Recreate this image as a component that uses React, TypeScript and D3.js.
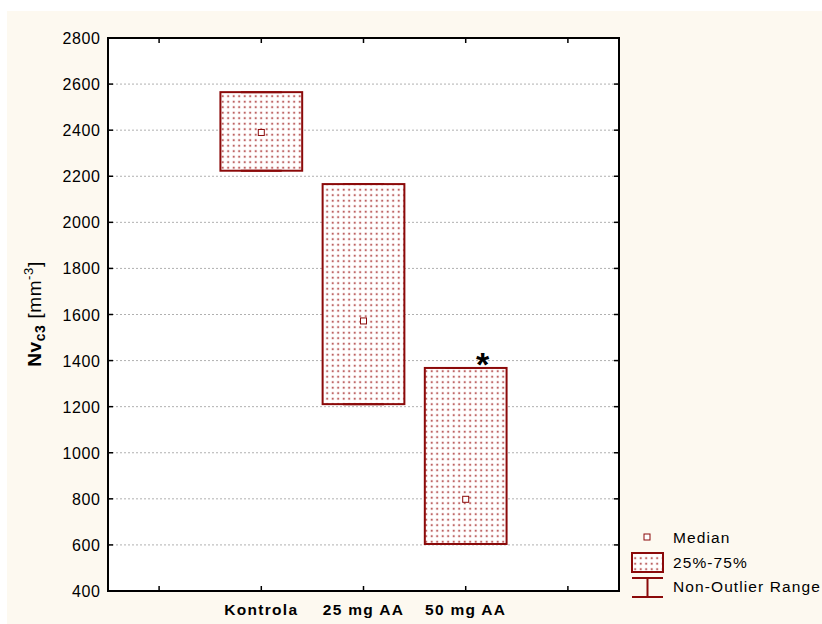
import React from "react";
import * as d3 from "d3";

// Box plot data: Nv c3 per group
const categories = ["Kontrola", "25 mg AA", "50 mg AA"];
const q1Values = [2224, 1211, 604];
const q3Values = [2565, 2166, 1368];
const medianValues = [2390, 1572, 798];
const rangeMin = [2224, 1211, 604];
const rangeMax = [2565, 2166, 1368];
const significant = [false, false, true];
const yTickValues = [400, 600, 800, 1000, 1200, 1400, 1600, 1800, 2000, 2200, 2400, 2600, 2800];
const legendLabels = ["Median", "25%-75%", "Non-Outlier Range"];

const W = 822;
const H = 624;
const plot = { left: 108, right: 619, top: 38, bottom: 591 };
const RED = "#8B0A0A";
const FONT = "Liberation Sans, Arial, sans-serif";

export default function App() {
  const slots = ["__start", ...categories, "__end"];
  const x = d3.scalePoint<string>().domain(slots).range([plot.left, plot.right]).padding(0.5);
  const y = d3.scaleLinear().domain([400, 2800]).range([plot.bottom, plot.top]);
  const step = x.step();
  const boxW = step * 0.8;

  return (
    <svg
      width={W}
      height={H}
      style={{ position: "fixed", left: 0, top: 0, display: "block" }}
      fontFamily={FONT}
    >
      <defs>
        <pattern id="dots" width={5.5} height={5.5} patternUnits="userSpaceOnUse">
          <rect width={5.5} height={5.5} fill="#ffffff" />
          <rect x={1.6} y={1.6} width={2.2} height={2.2} fill="#e6b0b0" />
          <rect x={2.1} y={2.1} width={1.2} height={1.2} fill="#8B0A0A" />
        </pattern>
      </defs>
      <rect width={W} height={H} fill="#ffffff" />
      <rect x={7} y={11} width={W - 7} height={H - 11} fill="#FDF9F0" />
      <rect
        x={plot.left}
        y={plot.top}
        width={plot.right - plot.left}
        height={plot.bottom - plot.top}
        fill="#ffffff"
      />

      {/* horizontal grid */}
      {yTickValues
        .filter((v) => v !== 400 && v !== 2800)
        .map((v) => (
          <line
            key={"g" + v}
            x1={plot.left}
            x2={plot.right}
            y1={y(v)}
            y2={y(v)}
            stroke="#b0b0b0"
            strokeWidth={1}
            strokeDasharray="2,2"
          />
        ))}

      {/* boxes */}
      {categories.map((c, i) => {
        const cx = x(c)!;
        const top = y(q3Values[i]);
        const bot = y(q1Values[i]);
        const capW = boxW / 2;
        return (
          <g key={c}>
            <line x1={cx} x2={cx} y1={y(rangeMax[i])} y2={top} stroke={RED} strokeWidth={2} />
            <line x1={cx} x2={cx} y1={bot} y2={y(rangeMin[i])} stroke={RED} strokeWidth={2} />
            <rect
              x={cx - boxW / 2}
              y={top}
              width={boxW}
              height={bot - top}
              fill="url(#dots)"
              stroke={RED}
              strokeWidth={2}
            />
            <line x1={cx - capW / 2} x2={cx + capW / 2} y1={y(rangeMax[i])} y2={y(rangeMax[i])} stroke={RED} strokeWidth={2} />
            <line x1={cx - capW / 2} x2={cx + capW / 2} y1={y(rangeMin[i])} y2={y(rangeMin[i])} stroke={RED} strokeWidth={2} />
            <rect
              x={cx - 3}
              y={y(medianValues[i]) - 3}
              width={6}
              height={6}
              fill="#ffffff"
              stroke={RED}
              strokeWidth={1}
            />
            {significant[i] && (
              <text
                x={cx + 17}
                y={y(rangeMax[i]) + 8}
                textAnchor="middle"
                fontSize={34}
                fontWeight="bold"
                fill="#000"
              >
                *
              </text>
            )}
          </g>
        );
      })}

      {/* frame */}
      <rect
        x={plot.left}
        y={plot.top}
        width={plot.right - plot.left}
        height={plot.bottom - plot.top}
        fill="none"
        stroke="#000"
        strokeWidth={2}
      />

      {/* y ticks and labels */}
      {yTickValues.map((v) => (
        <g key={"t" + v}>
          <line x1={plot.left} x2={plot.left + 5} y1={y(v)} y2={y(v)} stroke="#000" strokeWidth={1.5} />
          <line x1={plot.right - 5} x2={plot.right} y1={y(v)} y2={y(v)} stroke="#000" strokeWidth={1.5} />
          <text
            x={100.5}
            y={y(v) + 6}
            textAnchor="end"
            fontSize={16}
            letterSpacing={0.6}
            fill="#000"
          >
            {v}
          </text>
        </g>
      ))}

      {/* x ticks and labels */}
      {slots.map((s) => (
        <g key={"x" + s}>
          <line x1={x(s)} x2={x(s)} y1={plot.bottom} y2={plot.bottom - 5} stroke="#000" strokeWidth={1.5} />
          <line x1={x(s)} x2={x(s)} y1={plot.top} y2={plot.top + 5} stroke="#000" strokeWidth={1.5} />
        </g>
      ))}
      {categories.map((c) => (
        <text
          key={"xl" + c}
          x={x(c)}
          y={615}
          textAnchor="middle"
          fontSize={15.5}
          fontWeight="bold"
          letterSpacing={1.3}
          fill="#000"
        >
          {c}
        </text>
      ))}

      {/* y axis title */}
      <text
        transform="translate(41,314) rotate(-90)"
        textAnchor="middle"
        fontSize={19}
        letterSpacing={0.6}
        fill="#000"
      >
        <tspan fontWeight="bold">Nv</tspan>
        <tspan fontWeight="bold" fontSize={14} dy={4}>c3</tspan>
        <tspan dy={-4}> [mm</tspan>
        <tspan fontSize={13} dy={-8}>-3</tspan>
        <tspan dy={8}>]</tspan>
      </text>

      {/* legend */}
      <g>
        <rect x={644} y={534} width={6} height={6} fill="#ffffff" stroke={RED} strokeWidth={1} />
        <text x={673} y={543} fontSize={15.5} letterSpacing={1.1} fill="#000">
          {legendLabels[0]}
        </text>
        <rect x={632} y={553} width={31} height={19} fill="url(#dots)" stroke={RED} strokeWidth={2} />
        <text x={673} y={568} fontSize={15.5} letterSpacing={1.1} fill="#000">
          {legendLabels[1]}
        </text>
        <line x1={632} x2={663} y1={578} y2={578} stroke={RED} strokeWidth={2} />
        <line x1={647.5} x2={647.5} y1={578} y2={597} stroke={RED} strokeWidth={2} />
        <line x1={632} x2={663} y1={597} y2={597} stroke={RED} strokeWidth={2} />
        <text x={673} y={592} fontSize={15.5} letterSpacing={1.1} fill="#000">
          {legendLabels[2]}
        </text>
      </g>
    </svg>
  );
}
